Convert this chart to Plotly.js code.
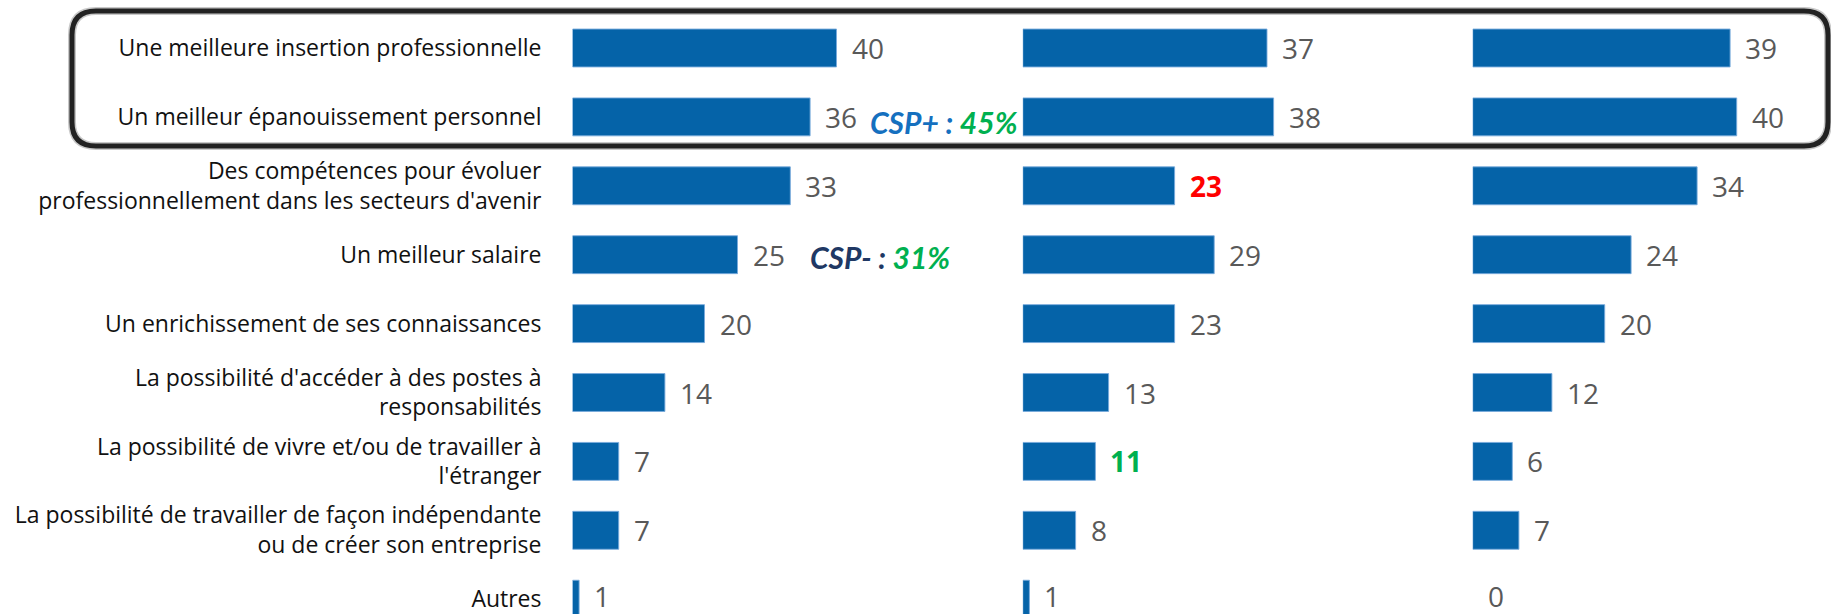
<!DOCTYPE html>
<html>
<head>
<meta charset="utf-8">
<script src="https://cdn.plot.ly/plotly-3.0.1.min.js"></script>
<style>html,body{margin:0;padding:0;background:#fff;}#chart{width:1831px;height:614px;}</style>
</head>
<body>
<div id="chart"></div>
<script>
// ---- data ----
const categories = [
  "Une meilleure insertion professionnelle",
  "Un meilleur épanouissement personnel",
  "Des compétences pour évoluer<br>professionnellement dans les secteurs d'avenir",
  "Un meilleur salaire",
  "Un enrichissement de ses connaissances",
  "La possibilité d'accéder à des postes à<br>responsabilités",
  "La possibilité de vivre et/ou de travailler à<br>l'étranger",
  "La possibilité de travailler de façon indépendante<br>ou de créer son entreprise",
  "Autres"
];
const group1 = [40, 36, 33, 25, 20, 14, 7, 7, 1];
const group2 = [37, 38, 23, 29, 23, 13, 11, 8, 1];
const group3 = [39, 40, 34, 24, 20, 12, 6, 7, 0];
const series = [group1, group2, group3];

// ---- style config ----
const W = 1831, H = 614;
const BAR = '#0563A8';
const highlights = { "1-2": '#FF0000', "1-6": '#00B050' }; // col-row -> colour (bold)
const xrefs = ['x', 'x2', 'x3'];
const pxPerUnit = 6.6;
const colStart = [572.5, 1022.8, 1472.7];
const colEnd = [1012.5, 1462.8, 1831];

const traces = series.map((vals, j) => ({
  type: 'bar', orientation: 'h',
  x: vals, y: categories,
  xaxis: xrefs[j], yaxis: 'y',
  width: 0.55,
  marker: { color: BAR, line: { color: 'rgba(120,170,220,0.9)', width: vals.map(v => v > 0 ? 1 : 0) } },
  hoverinfo: 'x+y', showlegend: false
}));

const annotations = [];
series.forEach((vals, j) => {
  vals.forEach((v, i) => {
    const hl = highlights[j + '-' + i];
    annotations.push({
      x: v, y: categories[i], xref: xrefs[j], yref: 'y',
      text: hl ? '<b>' + v + '</b>' : String(v),
      showarrow: false, xanchor: 'left', yanchor: 'middle', xshift: 13,
      yshift: i === categories.length - 1 ? 3 : 0,
      font: { family: 'Open Sans, sans-serif', size: 28, color: hl || '#595959' }
    });
  });
});
annotations.push({
  xref: 'paper', yref: 'paper', x: 944 / W, y: 1 - 122 / H,
  xanchor: 'center', yanchor: 'middle', showarrow: false,
  text: "<b><i><span style='color:#1570BF'>CSP+ :</span> <span style='color:#00B050'>45%</span></i></b>",
  font: { family: 'Lato, sans-serif', size: 30 }
});
annotations.push({
  xref: 'paper', yref: 'paper', x: 880 / W, y: 1 - 257 / H,
  xanchor: 'center', yanchor: 'middle', showarrow: false,
  text: "<b><i><span style='color:#203864'>CSP- :</span> <span style='color:#00B050'>31%</span></i></b>",
  font: { family: 'Lato, sans-serif', size: 30 }
});

// rounded rectangle (pixel -> paper)
function P(x, y) { return (x / W).toFixed(5) + ',' + (1 - y / H).toFixed(5); }
const L = 72, T = 11, R = 1828, B = 146, r = 24;
const boxPath = 'M' + P(L + r, T) + ' L' + P(R - r, T) + ' Q' + P(R, T) + ' ' + P(R, T + r) +
  ' L' + P(R, B - r) + ' Q' + P(R, B) + ' ' + P(R - r, B) +
  ' L' + P(L + r, B) + ' Q' + P(L, B) + ' ' + P(L, B - r) +
  ' L' + P(L, T + r) + ' Q' + P(L, T) + ' ' + P(L + r, T) + ' Z';

const shapes = [
  { type: 'path', xref: 'paper', yref: 'paper', path: boxPath, line: { color: '#C8C8C8', width: 8 }, layer: 'below' },
  { type: 'path', xref: 'paper', yref: 'paper', path: boxPath, line: { color: '#222222', width: 5 }, layer: 'below' }
];

const rowPitch = 68.9, firstRow = 48;
const yTop = -firstRow / rowPitch;
const yBot = (H - firstRow) / rowPitch;

const layout = {
  width: W, height: H,
  margin: { l: 0, r: 0, t: 0, b: 0, pad: 0 },
  paper_bgcolor: '#fff', plot_bgcolor: 'rgba(0,0,0,0)',
  showlegend: false,
  yaxis: {
    type: 'category', categoryorder: 'array', categoryarray: categories,
    range: [yBot, yTop], domain: [0, 1], anchor: 'x',
    showgrid: false, zeroline: false, showline: false, ticks: '',
    ticklabelstandoff: 30,
    tickfont: { family: 'Open Sans, sans-serif', size: 23, color: '#111111' },
    fixedrange: true
  },
  shapes, annotations
};
xrefs.forEach((xr, j) => {
  const key = j === 0 ? 'xaxis' : 'xaxis' + (j + 1);
  layout[key] = {
    domain: [colStart[j] / W, colEnd[j] / W],
    range: [0, (colEnd[j] - colStart[j]) / pxPerUnit],
    anchor: 'y', visible: false, showgrid: false, zeroline: false, fixedrange: true
  };
});

Plotly.newPlot('chart', traces, layout, { displayModeBar: false, staticPlot: true });
</script>
</body>
</html>
